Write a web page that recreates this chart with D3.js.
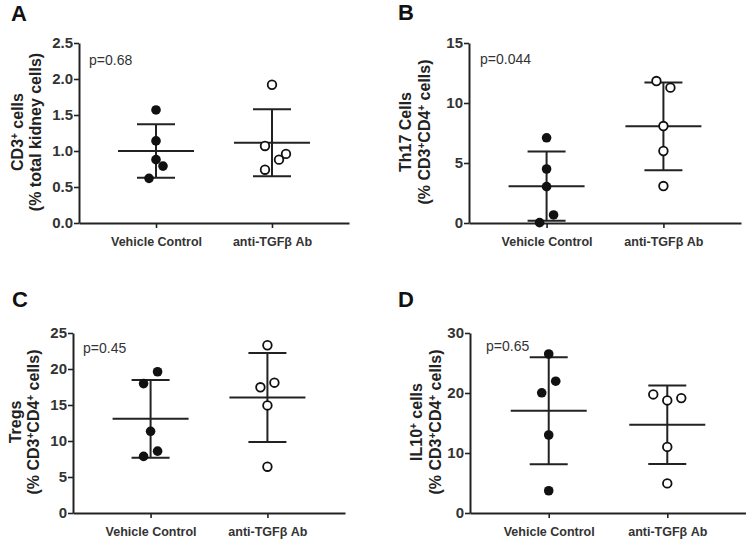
<!DOCTYPE html>
<html>
<head>
<meta charset="utf-8">
<script src="https://cdn.jsdelivr.net/npm/d3@7"></script>
<style>
  body { margin: 0; background: #fff; }
  svg { font-family: "Liberation Sans", Arial, sans-serif; }
</style>
</head>
<body>
<svg id="svg" width="746" height="539"></svg>
<script>
var groups = ["Vehicle Control", "anti-TGF\u03b2 Ab"];

// values per group
var cd3Vehicle = [1.57, 1.14, 0.88, 0.79, 0.62];
var cd3Anti    = [1.92, 1.07, 0.96, 0.88, 0.74];
var th17Vehicle = [7.1, 4.5, 3.03, 0.67, 0.03];
var th17Anti    = [11.83, 11.28, 8.08, 6.0, 3.08];
var tregVehicle = [19.62, 17.97, 11.35, 8.59, 7.86];
var tregAnti    = [23.3, 18.1, 17.46, 14.94, 6.43];
var il10Vehicle = [26.5, 21.97, 20.03, 13.0, 3.71];
var il10Anti    = [19.76, 18.76, 19.15, 11.01, 4.93];

// side-by-side nudges so points don't overlap (in steps)
var cd3Jit  = [[0, 0, 0, 1, -1], [0, -1, 2, 1, -1]];
var th17Jit = [[0, 0, 0, 1, -1], [-1, 1, 0, 0, 0]];
var tregJit = [[1, -1, 0, 1, -1], [0, 1, -1, 0, 0]];
var il10Jit = [[0, 1, -1, 0, 0], [-2, 0, 2, 0, 0]];

var cd3Ticks  = [0, 0.5, 1.0, 1.5, 2.0, 2.5];
var th17Ticks = [0, 5, 10, 15];
var tregTicks = [0, 5, 10, 15, 20, 25];
var il10Ticks = [0, 10, 20, 30];

var pValues = ["p=0.68", "p=0.044", "p=0.45", "p=0.65"];

var svg = d3.select("#svg");

var panels = [
  { letter: "A", lx: 11, ly: 21, x0: 79, x1: 349, top: 43, bottom: 223,
    vals: [cd3Vehicle, cd3Anti], jit: cd3Jit, ticks: cd3Ticks, max: 2.5, fmt: ".1f",
    lab1: [{t: "CD3"}, {t: "+", sup: true}, {t: " cells"}], lab2: [{t: "(% total kidney cells)"}],
    l1x: 17, l2x: 35, px: 89, py: 65, p: pValues[0] },
  { letter: "B", lx: 398, ly: 20, x0: 469, x1: 741, top: 43, bottom: 223,
    vals: [th17Vehicle, th17Anti], jit: th17Jit, ticks: th17Ticks, max: 15, fmt: "d",
    lab1: [{t: "Th17 Cells"}], lab2: [{t: "(% CD3"}, {t: "+", sup: true}, {t: "CD4"}, {t: "+", sup: true}, {t: " cells)"}],
    l1x: 405, l2x: 424, px: 480, py: 64, p: pValues[1] },
  { letter: "C", lx: 12, ly: 307, x0: 73, x1: 345, top: 333, bottom: 513,
    vals: [tregVehicle, tregAnti], jit: tregJit, ticks: tregTicks, max: 25, fmt: "d",
    lab1: [{t: "Tregs"}], lab2: [{t: "(% CD3"}, {t: "+", sup: true}, {t: "CD4"}, {t: "+", sup: true}, {t: " cells)"}],
    l1x: 15, l2x: 33, px: 83, py: 353, p: pValues[2] },
  { letter: "D", lx: 398, ly: 307, x0: 470, x1: 746, top: 333, bottom: 513,
    vals: [il10Vehicle, il10Anti], jit: il10Jit, ticks: il10Ticks, max: 30, fmt: "d",
    lab1: [{t: "IL10"}, {t: "+", sup: true}, {t: " cells"}], lab2: [{t: "(% CD3"}, {t: "+", sup: true}, {t: "CD4"}, {t: "+", sup: true}, {t: " cells)"}],
    l1x: 416, l2x: 435, px: 486, py: 351, p: pValues[3] }
];

var ink = "#222";

var mean = function(a) { return d3.mean(a); };
var sd = function(a) { return d3.deviation(a); };

var drawLabel = function(g, parts, x, cy) {
  var t = g.append("text")
    .attr("transform", "translate(" + x + "," + cy + ") rotate(-90)")
    .attr("text-anchor", "middle")
    .attr("dy", "0.35em")
    .attr("font-size", 16)
    .attr("font-weight", "bold")
    .attr("fill", ink);
  parts.forEach(function(p) {
    var s = t.append("tspan").text(p.t);
    if (p.sup) s.attr("font-size", 10).attr("baseline-shift", "55%");
  });
};

panels.forEach(function(P) {
  var g = svg.append("g");

  var x = d3.scalePoint().domain(groups).range([P.x0, P.x1]).padding(0.664);
  var y = d3.scaleLinear().domain([0, P.max]).range([P.bottom, P.top]);

  // y axis
  var ya = g.append("g")
    .attr("transform", "translate(" + P.x0 + ",0)")
    .call(d3.axisLeft(y).tickValues(P.ticks).tickFormat(d3.format(P.fmt)).tickSize(5).tickSizeOuter(0));
  // x axis
  var xa = g.append("g")
    .attr("transform", "translate(0," + P.bottom + ")")
    .call(d3.axisBottom(x).tickSize(5).tickSizeOuter(0));

  [ya, xa].forEach(function(a) {
    a.select(".domain").attr("stroke", ink).attr("stroke-width", 2);
    a.selectAll(".tick line").attr("stroke", ink).attr("stroke-width", 1.6);
    a.selectAll("text").attr("fill", "#333").attr("font-weight", "bold")
      .attr("font-family", "'Liberation Sans', Arial, sans-serif");
  });
  ya.selectAll("text").attr("font-size", 15).attr("x", -6);
  xa.selectAll("text").attr("font-size", 12.5).attr("y", 14);

  // mean +/- SD
  groups.forEach(function(name, i) {
    var v = P.vals[i], m = mean(v), s = sd(v), cx = x(name);
    g.append("line").attr("x1", cx).attr("x2", cx)
      .attr("y1", y(m + s)).attr("y2", y(m - s))
      .attr("stroke", ink).attr("stroke-width", 2);
    g.append("line").attr("x1", cx - 38).attr("x2", cx + 38)
      .attr("y1", y(m)).attr("y2", y(m))
      .attr("stroke", ink).attr("stroke-width", 2);
    [m + s, m - s].forEach(function(e) {
      g.append("line").attr("x1", cx - 19).attr("x2", cx + 19)
        .attr("y1", y(e)).attr("y2", y(e))
        .attr("stroke", ink).attr("stroke-width", 2);
    });

    g.selectAll(null).data(v).enter().append("circle")
      .attr("cx", function(d, k) { return cx + P.jit[i][k] * 7; })
      .attr("cy", function(d) { return y(d); })
      .attr("r", i === 0 ? 4.8 : 4.3)
      .attr("fill", i === 0 ? "#111" : "#fff")
      .attr("stroke", "#111")
      .attr("stroke-width", i === 0 ? 0 : 1.8);
  });

  // p value
  g.append("text").attr("x", P.px).attr("y", P.py)
    .attr("font-size", 14).attr("fill", "#333").text(P.p);

  // panel letter
  g.append("text").attr("x", P.lx).attr("y", P.ly)
    .attr("font-size", 22).attr("font-weight", "bold").attr("fill", "#111").text(P.letter);

  var cy = (P.top + P.bottom) / 2 - 1;
  drawLabel(g, P.lab1, P.l1x, cy);
  drawLabel(g, P.lab2, P.l2x, cy);
});
</script>
</body>
</html>
